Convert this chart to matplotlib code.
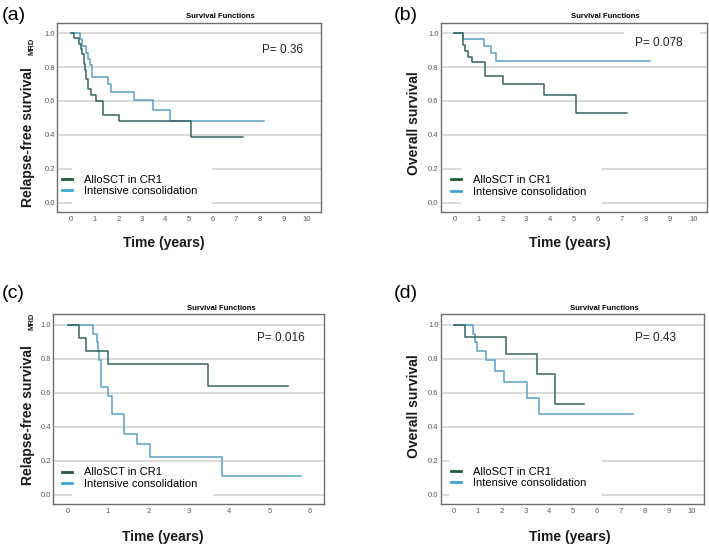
import matplotlib
matplotlib.use('Agg')
import matplotlib.pyplot as plt
from matplotlib.lines import Line2D
from matplotlib.patches import Rectangle

plt.rcParams['font.family'] = ['Liberation Sans', 'DejaVu Sans']

# ---- data ----
groups = ['AlloSCT in CR1', 'Intensive consolidation']
p_values = ['P= 0.36', 'P= 0.078', 'P= 0.016', 'P= 0.43']

a_allo_t = [0, 0.14, 0.35, 0.42, 0.48, 0.53, 0.58, 0.63, 0.70, 0.85, 1.06, 1.34, 2.02, 5.08, 7.27]
a_allo_s = [1.0, 0.969, 0.938, 0.906, 0.875, 0.82, 0.78, 0.73, 0.67, 0.635, 0.60, 0.52, 0.484, 0.386, 0.386]
a_int_t = [0, 0.37, 0.46, 0.65, 0.72, 0.78, 0.89, 1.55, 1.69, 2.65, 3.46, 4.18, 8.2]
a_int_s = [1.0, 0.967, 0.925, 0.885, 0.85, 0.81, 0.74, 0.70, 0.655, 0.605, 0.545, 0.48, 0.48]

b_allo_t = [0, 0.35, 0.45, 0.56, 0.72, 1.29, 2.02, 3.76, 5.08, 7.22]
b_allo_s = [1.0, 0.931, 0.897, 0.862, 0.828, 0.745, 0.70, 0.633, 0.528, 0.528]
b_int_t = [0, 0.34, 1.24, 1.52, 1.73, 8.16]
b_int_s = [1.0, 0.964, 0.924, 0.884, 0.837, 0.837]

c_allo_t = [0, 0.28, 0.45, 1.0, 3.48, 5.44]
c_allo_s = [1.0, 0.923, 0.846, 0.769, 0.641, 0.641]
c_int_t = [0, 0.63, 0.72, 0.75, 0.78, 0.82, 1.0, 1.09, 1.39, 1.71, 2.05, 3.81, 5.77]
c_int_s = [1.0, 0.947, 0.895, 0.842, 0.789, 0.632, 0.579, 0.474, 0.355, 0.296, 0.222, 0.111, 0.111]

d_allo_t = [0, 0.46, 2.17, 3.48, 4.24, 5.44]
d_allo_s = [1.0, 0.929, 0.826, 0.708, 0.531, 0.531]
d_int_t = [0, 0.81, 0.88, 0.98, 1.35, 1.74, 2.10, 3.06, 3.58, 7.5]
d_int_s = [1.0, 0.947, 0.895, 0.842, 0.789, 0.727, 0.664, 0.566, 0.472, 0.472]

y_ticks = [0.0, 0.2, 0.4, 0.6, 0.8, 1.0]
x_ticks_long = list(range(0, 11))
x_ticks_short = list(range(0, 7))

W, H = 709, 550
allo_line = '#35645f'
int_line = '#5aa0c8'
allo_handle = '#1d5c3c'
int_handle = '#3fa6d4'
grid_color = '#d4d4d4'

fig = plt.figure(figsize=(W / 100, H / 100), dpi=100)


def px_box(left, top, right, bottom):
    return [left / W, 1 - bottom / H, (right - left) / W, (bottom - top) / H]


def draw_panel(box, allo_t, allo_s, int_t, int_s, xticks, xlim, p_text, p_pos,
               masks, leg_pos, title_y, xlabel_pos, tick_pad):
    ax = fig.add_axes(px_box(*box))
    ax.set_xlim(*xlim)
    ax.set_ylim(-0.055, 1.06)
    for y in y_ticks:
        ax.axhline(y, color=grid_color, lw=1.2, zorder=1)
    for m in masks:
        ax.add_patch(Rectangle((m[0], m[1]), m[2] - m[0], m[3] - m[1], transform=ax.transAxes,
                               facecolor='white', edgecolor='none', zorder=2))
    ax.plot(int_t, int_s, drawstyle='steps-post', color=int_line, lw=1.1, zorder=3)
    ax.plot(allo_t, allo_s, drawstyle='steps-post', color=allo_line, lw=1.1, zorder=4)

    ax.set_xticks(xticks)
    ax.set_yticks(y_ticks)
    ax.set_yticklabels([f'{v:.1f}' for v in y_ticks])
    ax.tick_params(axis='both', length=0, labelsize=5.5, labelcolor='#5a5a5a')
    ax.tick_params(axis='y', pad=1.5)
    ax.tick_params(axis='x', pad=tick_pad)
    for s in ax.spines.values():
        s.set_color('#6e6e6e')
        s.set_linewidth(1.0)

    ax.text(0.62, title_y, 'Survival Functions', transform=ax.transAxes, ha='center', va='center',
            fontsize=5.5, fontweight='bold')
    ax.text(p_pos[0], p_pos[1], p_text, transform=ax.transAxes, ha='left', va='center', fontsize=8.5,
            color='#222222')
    ax.text(xlabel_pos[0], xlabel_pos[1], 'Time (years)', transform=ax.transAxes, ha='center',
            va='center', fontsize=10, fontweight='bold', color='#1a1a1a')

    handles = [Line2D([], [], color=allo_handle, lw=2), Line2D([], [], color=int_handle, lw=2)]
    ax.legend(handles, groups, loc='center left', bbox_to_anchor=leg_pos, frameon=False,
              fontsize=8, handlelength=0.9, handletextpad=1.1, labelspacing=0.15, borderpad=0,
              borderaxespad=0)
    return ax


# (a)
draw_panel((57, 23, 321, 212), a_allo_t, a_allo_s, a_int_t, a_int_s, x_ticks_long, (-0.6, 10.6),
           p_values[0], (0.776, 0.857), [(0.057, 0.01, 0.587, 0.28)], (0.018, 0.141), 1.032,
           (0.403, -0.164), 3)
# (b)
draw_panel((440.7, 23, 706.7, 212), b_allo_t, b_allo_s, b_int_t, b_int_s, x_ticks_long, (-0.57, 10.53),
           p_values[1], (0.729, 0.896), [(0.076, 0.01, 0.606, 0.28), (0.689, 0.86, 0.975, 0.985)],
           (0.039, 0.139), 1.032, (0.486, -0.164), 3)
# (c)
draw_panel((53, 314.3, 324, 504.3), c_allo_t, c_allo_s, c_int_t, c_int_s, x_ticks_short, (-0.36, 6.34),
           p_values[2], (0.752, 0.877), [(0.069, 0.01, 0.592, 0.12)], (0.032, 0.137), 1.033,
           (0.404, -0.17), 2.5)
# (d)
draw_panel((440.7, 314.3, 704, 504.3), d_allo_t, d_allo_s, d_int_t, d_int_s, x_ticks_long, (-0.56, 10.5),
           p_values[3], (0.738, 0.877), [(0.03, 0.01, 0.613, 0.28)], (0.039, 0.141), 1.033,
           (0.49, -0.17), 2.5)


def ftext(x, y, s, **kw):
    fig.text(x / W, 1 - y / H, s, **kw)


# y labels
ylab = dict(rotation=90, ha='center', va='center', fontsize=10, fontweight='bold', color='#1a1a1a')
sub = dict(rotation=90, ha='center', va='center', fontsize=5.5, fontweight='bold', color='#1a1a1a')
ftext(28.3, 137.5, 'Relapse-free survival', **ylab)
ftext(32.3, 46.5, 'MRD', **sub)
ftext(28.3, 415, 'Relapse-free survival', **ylab)
ftext(32.3, 321, 'MRD', **sub)
ftext(414, 123.5, 'Overall survival', **ylab)
ftext(414, 406.5, 'Overall survival', **ylab)

# panel letters
ftext(1.5, 15.5, '(a)', ha='left', va='center', fontsize=14)
ftext(394, 16, '(b)', ha='left', va='center', fontsize=14)
ftext(1.5, 293, '(c)', ha='left', va='center', fontsize=14)
ftext(394, 293, '(d)', ha='left', va='center', fontsize=14)

fig.savefig('out.png', dpi=100)
